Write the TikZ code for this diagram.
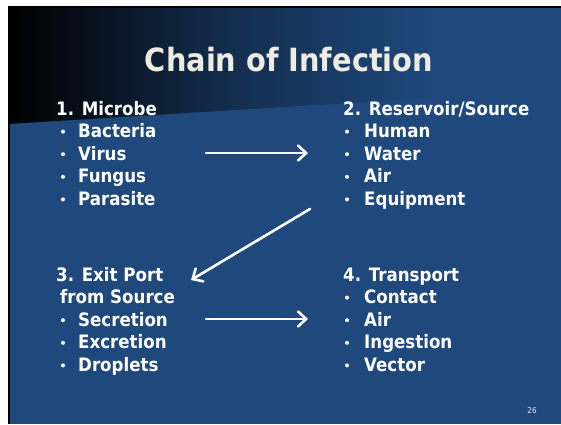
\documentclass[tikz,border=0pt]{standalone}
\usepackage{fontspec}
\setmainfont{DejaVu Sans}[FakeStretch=0.9]
\usetikzlibrary{arrows.meta}

\definecolor{slideblue}{HTML}{1F497D}
\definecolor{titlecream}{HTML}{EEECE1}

\pgfdeclarehorizontalshading{topfade}{100bp}{color(0bp)=(black); color(25bp)=(black);
  color(45bp)=(slideblue!62!black); color(64bp)=(slideblue); color(100bp)=(slideblue)}

\tikzset{
  heading/.style={anchor=base west, inner sep=0pt, text=white,
    font=\bfseries\fontsize{18.5}{18.5}\selectfont},
  entry/.style={heading},
  bulletdot/.style={circle, fill=white, inner sep=0pt, minimum size=4pt},
  link/.style={white, line width=2.6pt, line cap=round,
    -{Straight Barb[length=8pt,width=15pt,line cap=round]}},
}

\begin{document}
\begin{tikzpicture}[x=1pt,y=-1pt]
  \useasboundingbox (0,0) rectangle (561,424);

  % slide background
  \fill[white] (0,0) rectangle (561,424);
  \fill[slideblue] (8,6) rectangle (561,424);
  \shade[shading=topfade]
    (8,6) -- (561,6) -- (561,90) -- (8,124) -- cycle;
  \draw[black, line width=2pt] (9,424) -- (9,7) -- (561,7);

  % title
  \node[anchor=base, inner sep=0pt, text=titlecream,
    font=\bfseries\fontsize{32}{32}\selectfont] (title) at (289,71) {Chain of Infection};

  % 1. microbe
  \node[heading] (microbe) at (56,115) {1. Microbe};
  \foreach \txt [count=\i] in {Bacteria, Virus, Fungus, Parasite} {
    \node[bulletdot] (mdot\i) at (63,{115+22.6*\i-6}) {};
    \node[entry] (mitem\i) at (78,{115+22.6*\i}) {\txt};
  }

  % 2. reservoir
  \node[heading] (reservoir) at (343,115) {2. Reservoir/Source};
  \foreach \txt [count=\i] in {Human, Water, Air, Equipment} {
    \node[bulletdot] (rdot\i) at (347,{115+22.6*\i-6}) {};
    \node[entry] (ritem\i) at (364,{115+22.6*\i}) {\txt};
  }

  % 3. exit port
  \node[heading] (exitport) at (56,281) {3. Exit Port};
  \node[heading] (exitfrom) at (60,{281+22.6}) {from Source};
  \foreach \txt [count=\i] in {Secretion, Excretion, Droplets} {
    \node[bulletdot] (edot\i) at (63,{303.6+22.6*\i-6}) {};
    \node[entry] (eitem\i) at (78,{303.6+22.6*\i}) {\txt};
  }

  % 4. transport
  \node[heading] (transport) at (343,281) {4. Transport};
  \foreach \txt [count=\i] in {Contact, Air, Ingestion, Vector} {
    \node[bulletdot] (tdot\i) at (347,{281+22.6*\i-6}) {};
    \node[entry] (titem\i) at (364,{281+22.6*\i}) {\txt};
  }

  % arrows
  \coordinate (mr) at (206,153);
  \coordinate (rm) at (308,153);
  \coordinate (re) at (310,209);
  \coordinate (er) at (191,280);
  \coordinate (et) at (206,319);
  \coordinate (te) at (308,319);
  \draw[link] (mr) -- (rm);
  \draw[link] (re) -- (er);
  \draw[link] (et) -- (te);

  \node[text=titlecream, font=\fontsize{8}{8}\selectfont] (pagenum) at (532,411) {26};
\end{tikzpicture}
\end{document}
